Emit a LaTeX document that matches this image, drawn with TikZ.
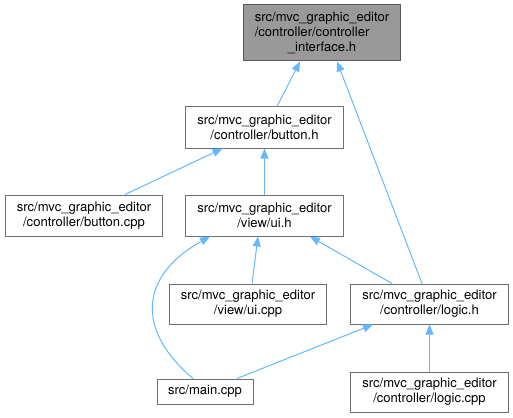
\documentclass[tikz,border=0pt]{standalone}
\usepackage{fontspec}
\setmainfont{TeX Gyre Heros}
\usepackage{calc}
\usetikzlibrary{arrows.meta,calc}
\definecolor{edgeblue}{HTML}{63B8FF}
\definecolor{boxline}{HTML}{707070}
\definecolor{rootfill}{HTML}{999999}
\begin{document}
\begin{tikzpicture}[x=0.75pt,y=-0.75pt,
  box/.style={draw=boxline, line width=0.75pt, fill=white, inner sep=0pt, align=center,
    font=\fontsize{9.8}{11.25}\selectfont, text=black, minimum height=30.75pt, minimum width=118pt},
  rootbox/.style={box, fill=rootfill, draw=boxline!80!black, minimum height=42pt},
  edgeline/.style={draw=edgeblue, line width=0.75pt, arrows={Triangle[length=7.5pt,width=6pt]-}}]
\useasboundingbox (0,0) rectangle (513,417);

\node[rootbox] (top) at (322,33) {src/mvc\_graphic\_editor\\\makebox[\widthof{src/mvc\_graphic\_editor}][l]{/controller/controller}\\\_interface.h};
\node[box] (buttonh) at (264.5,127.5) {src/mvc\_graphic\_editor\\/controller/button.h};
\node[box] (buttoncpp) at (84,215.5) {src/mvc\_graphic\_editor\\/controller/button.cpp};
\node[box] (uih) at (264.5,215.5) {src/mvc\_graphic\_editor\\/view/ui.h};
\node[box, minimum height=30pt] (uicpp) at (248,304) {src/mvc\_graphic\_editor\\/view/ui.cpp};
\node[box, minimum height=30pt] (logich) at (429.5,304) {src/mvc\_graphic\_editor\\/controller/logic.h};
\node[box, minimum height=30pt] (logiccpp) at (429.5,392) {src/mvc\_graphic\_editor\\/controller/logic.cpp};
\node[box, minimum width=72pt, minimum height=18.75pt] (main) at (205,391.5) {src/main.cpp};

\draw[edgeline] ($(top.south)+(-22,0)$) -- ($(buttonh.north)+(12.5,0)$);
\draw[edgeline] ($(top.south)+(15,0)$) -- ($(logich.north)+(-7.5,0)$);
\draw[edgeline] ($(buttonh.south)+(-42,0)$) -- ($(buttoncpp.north)+(41,0)$);
\draw[edgeline] (buttonh.south) -- (uih.north);
\draw[edgeline] ($(uih.south)+(-6.5,0)$) -- ($(uicpp.north)+(4,0)$);
\draw[edgeline] ($(uih.south)+(45.5,0)$) -- ($(logich.north)+(-37.5,0)$);
\draw[edgeline] ($(uih.south)+(-54.5,0)$) .. controls ($(uih.south)+(-124.5,39)$) and ($(main.north)+(-70,-49)$) .. ($(main.north)+(-12,0)$);
\draw[edgeline] ($(logich.south)+(-56.5,0)$) -- ($(main.north)+(32,0)$);
\draw[edgeline] (logich.south) -- (logiccpp.north);
\end{tikzpicture}
\end{document}
